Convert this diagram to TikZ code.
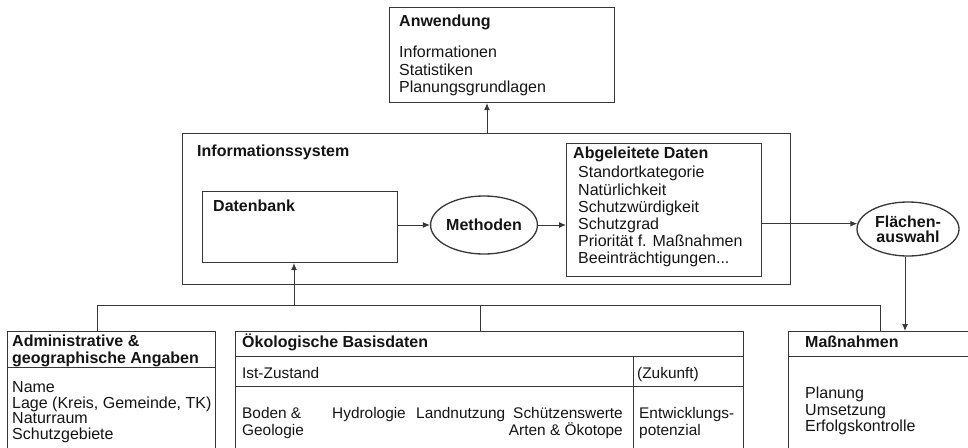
\documentclass[tikz,border=0pt]{standalone}
\usepackage{fontspec}
\setmainfont{Liberation Sans}
\usetikzlibrary{arrows.meta,shapes.geometric}
\definecolor{lc}{RGB}{55,55,55}
\definecolor{tc}{RGB}{20,20,20}
\begin{document}
\begin{tikzpicture}[x=1pt,y=-1pt,
  box/.style={draw=lc, line width=1.1pt, inner sep=0pt, anchor=north west},
  tx/.style={anchor=base west, inner sep=0pt, font=\fontsize{16}{18}\selectfont, text=tc},
  sx/.style={anchor=base west, inner sep=0pt, font=\fontsize{15.4}{18}\selectfont, text=tc},
  bx/.style={anchor=base west, inner sep=0pt, font=\fontsize{16}{18}\selectfont\bfseries, text=tc},
  arr/.style={draw=lc, line width=1pt, -{Latex[length=7pt,width=6pt]}},
  ln/.style={draw=lc, line width=1pt},
  ell/.style={ellipse, draw=lc, line width=1.3pt, inner sep=0pt, text=tc}]
\useasboundingbox (0,0) rectangle (968,447);
\clip (0,0) rectangle (968,447);

% Anwendung
\node[box, minimum width=225pt, minimum height=95pt] (anw) at (389,7) {};
\node[bx] (anwT) at (399,27) {Anwendung};
\node[tx] (anw1) at (399,57) {Informationen};
\node[tx] (anw2) at (399,75) {Statistiken};
\node[tx] (anw3) at (399,92) {Planungsgrundlagen};

% Informationssystem
\node[box, minimum width=608pt, minimum height=151pt] (info) at (182,133) {};
\node[bx] (infoT) at (197,156) {Informationssystem};
\node[box, minimum width=195pt, minimum height=71pt] (db) at (202,191) {};
\node[bx] (dbT) at (213,211) {Datenbank};
\node[ell, minimum width=95pt, minimum height=58pt, font=\fontsize{16}{18}\selectfont\bfseries] (meth) at (484,225) {Methoden};
\node[box, minimum width=195pt, minimum height=133pt] (abg) at (566,143) {};
\node[bx] (abgT) at (573,158) {Abgeleitete Daten};
\node[tx] (abg1) at (578,177) {Standortkategorie};
\node[tx] (abg2) at (578,195) {Natürlichkeit};
\node[tx] (abg3) at (578,212) {Schutzwürdigkeit};
\node[tx] (abg4) at (578,229) {Schutzgrad};
\node[tx] (abg5) at (578,246) {Priorität f. Maßnahmen};
\node[tx] (abg6) at (578,263) {Beeinträchtigungen...};

% Flaechenauswahl
\node[ell, minimum width=102pt, minimum height=54pt, align=center, font=\fontsize{16}{15}\selectfont\bfseries] (fla) at (908,229) {Flächen-\\auswahl};

% Bottom boxes
\node[box, minimum width=208pt, minimum height=140pt] (adm) at (7,331) {};
\draw[ln] (adm.west |- 0,367) -- (adm.east |- 0,367);
\node[bx] (admT1) at (12,346) {Administrative \&};
\node[bx] (admT2) at (12,363) {geographische Angaben};
\node[tx] (adm1) at (12,392) {Name};
\node[tx] (adm2) at (12,408) {Lage (Kreis, Gemeinde, TK)};
\node[tx] (adm3) at (12,423) {Naturraum};
\node[tx] (adm4) at (12,439) {Schutzgebiete};

\node[box, minimum width=508pt, minimum height=140pt] (oek) at (235,331) {};
\draw[ln] (oek.west |- 0,356) -- (oek.east |- 0,356);
\draw[ln] (oek.west |- 0,386) -- (oek.east |- 0,386);
\draw[ln] (633,356) -- (633,471);
\node[bx] (oekT) at (242,347) {Ökologische Basisdaten};
\node[sx] (ist) at (242,378) {Ist-Zustand};
\node[sx] (zuk) at (637,378) {(Zukunft)};
\node[sx] (bod1) at (242,418) {Boden \&};
\node[sx] (bod2) at (242,435) {Geologie};
\node[sx] (hyd) at (332,418) {Hydrologie};
\node[sx] (lan) at (416,418) {Landnutzung};
\node[sx, anchor=base east] (sch1) at (623,418) {Schützenswerte};
\node[sx, anchor=base east] (sch2) at (623,435) {Arten \& Ökotope};
\node[sx] (ent1) at (639,418) {Entwicklungs-};
\node[sx] (ent2) at (639,435) {potenzial};

\node[box, minimum width=200pt, minimum height=140pt] (mas) at (788,331) {};
\draw[ln] (mas.west |- 0,356) -- (mas.east |- 0,356);
\node[bx] (masT) at (805,347) {Maßnahmen};
\node[tx] (mas1) at (805,398) {Planung};
\node[tx] (mas2) at (805,415) {Umsetzung};
\node[tx] (mas3) at (805,431) {Erfolgskontrolle};

% Connectors
\coordinate (up) at (487,133);
\draw[arr] (up) -- (up |- anw.south);
\draw[arr] (meth.west -| db.east) -- (meth.west);
\draw[arr] (meth.east) -- (meth.east -| abg.west);
\draw[arr] (abg.east |- fla.174) -- (fla.174);
\draw[arr] (fla.south -| 905,0) -- (905,331);

\coordinate (hl) at (97,305);
\coordinate (hr) at (880,305);
\coordinate (hd) at (294,305);
\coordinate (hm) at (480,305);
\draw[ln] (hl) -- (hr);
\draw[arr] (hd) -- (hd |- db.south);
\draw[ln] (hl) -- (hl |- adm.north);
\draw[ln] (hm) -- (hm |- oek.north);
\draw[ln] (hr) -- (hr |- mas.north);
\end{tikzpicture}
\end{document}
